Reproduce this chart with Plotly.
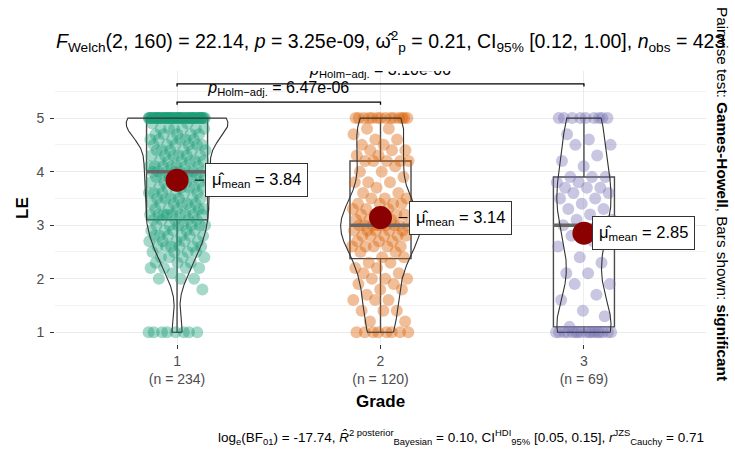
import numpy as np
import plotly.graph_objects as go

# ---- data: LE scores per grade, stored as value tallies ----
grades = ["1", "2", "3"]

le_levels_1 = [1.0, 1.8, 2.0, 2.1, 2.2, 2.3, 2.4, 2.5, 2.6, 2.7, 2.8, 2.9, 3.0, 3.1, 3.2, 3.3, 3.4,
               3.5, 3.6, 3.7, 3.8, 3.9, 4.0, 4.1, 4.2, 4.3, 4.4, 4.5, 4.6, 4.7, 4.8, 4.9, 5.0]
le_counts_1 = [8, 1, 3, 1, 4, 3, 4, 4, 6, 5, 6, 5, 7, 5, 9, 6, 6,
               6, 6, 6, 6, 7, 8, 7, 6, 6, 6, 6, 6, 5, 6, 2, 62]

le_levels_2 = [1.0, 1.2, 1.4, 1.6, 1.7, 1.8, 1.9, 2.0, 2.1, 2.2, 2.3, 2.4, 2.5, 2.6, 2.7, 2.8, 2.9, 3.0, 3.1,
               3.2, 3.3, 3.4, 3.5, 3.6, 3.7, 3.8, 3.9, 4.0, 4.1, 4.2, 4.3, 4.4, 4.5, 4.6, 4.7, 4.8, 5.0]
le_counts_2 = [8, 2, 3, 3, 1, 2, 2, 3, 2, 2, 2, 2, 2, 5, 3, 5, 5, 9, 3,
               5, 3, 4, 3, 2, 1, 3, 1, 2, 1, 5, 2, 3, 2, 2, 1, 2, 14]

le_levels_3 = [1.0, 1.1, 1.3, 1.4, 1.6, 1.7, 1.9, 2.1, 2.3, 2.4, 2.6, 2.7, 2.8, 2.9, 3.0, 3.1,
               3.2, 3.3, 3.4, 3.5, 3.6, 3.7, 3.8, 3.9, 4.1, 4.2, 4.3, 4.5, 4.6, 4.7, 5.0]
le_counts_3 = [17, 1, 1, 1, 1, 1, 2, 2, 1, 1, 1, 1, 1, 2, 2, 2,
               1, 2, 1, 2, 2, 3, 2, 3, 1, 1, 1, 2, 1, 1, 9]

# pairwise Games-Howell comparisons shown as brackets
pair_groups = [(1, 2), (1, 3)]
pair_p_values = ["6.47e-06", "3.10e-06"]

# statistical summaries printed above and below the panel
subtitle_text = ("<i>F</i><sub>Welch</sub>(2, 160) = 22.14, <i>p</i> = 3.25e-09, "
                 "ω̂<sup>2</sup><sub>p</sub> = 0.21, CI<sub>95%</sub> [0.12, 1.00], "
                 "<i>n</i><sub>obs</sub> = 423")
caption_text = ("log<sub>e</sub>(BF<sub>01</sub>) = -17.74, "
                "<i>R̂</i><sup>2 posterior</sup><sub>Bayesian</sub> = 0.10, "
                "CI<sup>HDI</sup><sub>95%</sub> [0.05, 0.15], "
                "<i>r</i><sup>JZS</sup><sub>Cauchy</sub> = 0.71")
side_text = "Pairwise test: <b>Games-Howell</b>, Bars shown: <b>significant</b>"

# ---- styling / layout constants ----
colors = ["#1B9E77", "#D95F02", "#7570B3"]
FONT = "Liberation Sans, Arial, sans-serif"
W, H = 735, 450
L, R, T, B = 55, 29, 71, 106
PW, PH = W - L - R, H - T - B
X_RANGE = [0.4, 3.6]
Y_RANGE = [0.78, 5.88]
X_PER_PX = (X_RANGE[1] - X_RANGE[0]) / PW
Y_PER_PX = (Y_RANGE[1] - Y_RANGE[0]) / PH
bracket_heights = [5.30, 5.64]
tip = 0.05
label_gaps_px = [28, 28, 8]
jitter_half = 0.14
box_width = 0.3
violin_width = 0.5


def paper_x(px):
    return (px - L) / PW


def paper_y(py):
    return (H - B - py) / PH


groups = [
    np.repeat(le_levels_1, le_counts_1),
    np.repeat(le_levels_2, le_counts_2),
    np.repeat(le_levels_3, le_counts_3),
]
positions = [1, 2, 3]

# kernel densities (Gaussian, nrd0 bandwidth, trimmed to data range)
dens_list = []
for v in groups:
    q1, q3 = np.percentile(v, [25, 75])
    sd = np.std(v, ddof=1)
    lo = min(sd, (q3 - q1) / 1.34)
    bw = 0.9 * lo * len(v) ** -0.2
    grid = np.linspace(v.min(), v.max(), 512)
    d = np.exp(-0.5 * ((grid[:, None] - v[None, :]) / bw) ** 2).sum(axis=1)
    d = d / (len(v) * bw * np.sqrt(2 * np.pi))
    dens_list.append((grid, d))
dmax = max(d.max() for _, d in dens_list)

fig = go.Figure()

# jittered raw observations
golden = 0.6180339887498949
for i, (v, pos, col) in enumerate(zip(groups, positions, colors)):
    k = np.arange(len(v))
    offs = (((k * golden + 0.37 * i) % 1.0) - 0.5) * 2 * jitter_half
    fig.add_trace(go.Scatter(
        x=pos + offs, y=v, mode="markers",
        marker=dict(size=12, color=col, opacity=0.4, line=dict(width=0)),
        hoverinfo="skip", showlegend=False))

# box plots (Tukey whiskers) with a heavier median bar
for v, pos in zip(groups, positions):
    q1, med, q3 = np.percentile(v, [25, 50, 75])
    iqr = q3 - q1
    lw = v[v >= q1 - 1.5 * iqr].min()
    uw = v[v <= q3 + 1.5 * iqr].max()
    fig.add_trace(go.Box(
        x=[pos], q1=[q1], median=[med], q3=[q3], lowerfence=[lw], upperfence=[uw],
        width=box_width, whiskerwidth=0, boxpoints=False,
        fillcolor="rgba(255,255,255,0.2)", line=dict(color="#4a4a4a", width=1.4),
        hoverinfo="skip", showlegend=False))
    fig.add_trace(go.Scatter(
        x=[pos - box_width / 2, pos + box_width / 2], y=[med, med], mode="lines",
        line=dict(color="#666666", width=3.5), hoverinfo="skip", showlegend=False))

# violin outlines, area-scaled across groups
for (grid, d), pos in zip(dens_list, positions):
    half = violin_width / 2 * d / dmax
    xs = np.concatenate([pos + half, (pos - half)[::-1], [pos + half[0]]])
    ys = np.concatenate([grid, grid[::-1], [grid[0]]])
    fig.add_trace(go.Scatter(
        x=xs, y=ys, mode="lines", line=dict(color="#333333", width=1.1),
        hoverinfo="skip", showlegend=False))

# group means with dashed leaders to their labels
means = [float(np.mean(v)) for v in groups]
for pos, m, gap in zip(positions, means, label_gaps_px):
    fig.add_trace(go.Scatter(
        x=[pos, pos + gap * X_PER_PX], y=[m, m], mode="lines",
        line=dict(color="black", width=1, dash="dash"),
        hoverinfo="skip", showlegend=False))
fig.add_trace(go.Scatter(
    x=positions, y=means, mode="markers",
    marker=dict(size=23, color="darkred", line=dict(width=0)),
    hoverinfo="skip", showlegend=False))

# significance brackets; labels are clipped to the panel
for (a, b), p, hgt in zip(pair_groups, pair_p_values, bracket_heights):
    fig.add_trace(go.Scatter(
        x=[a, a, b, b], y=[hgt - tip, hgt, hgt, hgt - tip], mode="lines",
        line=dict(color="black", width=1.3), hoverinfo="skip", showlegend=False))
    fig.add_trace(go.Scatter(
        x=[(a + b) / 2], y=[hgt + 5 * Y_PER_PX], mode="text",
        text=[f"<i>p</i><sub>Holm−adj.</sub> = {p}"], textposition="top center",
        textfont=dict(size=16, color="black", family=FONT),
        cliponaxis=True, hoverinfo="skip", showlegend=False))

annotations = []
for pos, m, gap in zip(positions, means, label_gaps_px):
    annotations.append(dict(
        x=pos, y=m, xref="x", yref="y", xanchor="left", yanchor="middle",
        xshift=gap, showarrow=False,
        text=f"μ̂<sub>mean</sub> = {m:.2f}",
        font=dict(size=16.5, color="black", family=FONT),
        bgcolor="white", bordercolor="#333333", borderwidth=1, borderpad=6))

annotations += [
    dict(x=paper_x(54), y=paper_y(42), xref="paper", yref="paper",
         xanchor="left", yanchor="middle", showarrow=False, text=subtitle_text,
         font=dict(size=19.5, color="black", family=FONT)),
    dict(x=paper_x(706), y=paper_y(437), xref="paper", yref="paper",
         xanchor="right", yanchor="middle", showarrow=False, text=caption_text,
         font=dict(size=13.5, color="black", family=FONT)),
    dict(x=paper_x(723), y=paper_y(194), xref="paper", yref="paper",
         xanchor="center", yanchor="middle", showarrow=False, text=side_text,
         textangle=90, font=dict(size=15.3, color="black", family=FONT)),
    dict(x=paper_x(22), y=paper_y(208), xref="paper", yref="paper",
         xanchor="center", yanchor="middle", showarrow=False, text="<b>LE</b>",
         textangle=-90, font=dict(size=17, color="black", family=FONT)),
    dict(x=paper_x(380), y=paper_y(401), xref="paper", yref="paper",
         xanchor="center", yanchor="middle", showarrow=False, text="<b>Grade</b>",
         font=dict(size=17, color="black", family=FONT)),
]

tick_text = [f"{g}<br>(n = {len(v)})" for g, v in zip(grades, groups)]

fig.update_layout(
    width=W, height=H, margin=dict(l=L, r=R, t=T, b=B),
    paper_bgcolor="white", plot_bgcolor="white",
    font=dict(family=FONT),
    showlegend=False,
    annotations=annotations,
    xaxis=dict(range=X_RANGE, tickvals=positions, ticktext=tick_text,
               showgrid=True, gridcolor="#EBEBEB", gridwidth=1,
               zeroline=False, showline=False,
               ticks="outside", ticklen=4, tickcolor="#333333", tickwidth=1,
               tickfont=dict(size=14, color="#4D4D4D", family=FONT)),
    yaxis=dict(range=Y_RANGE, tickvals=[1, 2, 3, 4, 5],
               showgrid=True, gridcolor="#EBEBEB", gridwidth=1.3,
               minor=dict(tickvals=[1.5, 2.5, 3.5, 4.5, 5.5], showgrid=True,
                          gridcolor="#F2F2F2", gridwidth=1),
               zeroline=False, showline=False,
               ticks="outside", ticklen=4, tickcolor="#333333", tickwidth=1,
               ticklabelstandoff=3,
               tickfont=dict(size=14, color="#4D4D4D", family=FONT)),
)

fig.write_html("out.html")
